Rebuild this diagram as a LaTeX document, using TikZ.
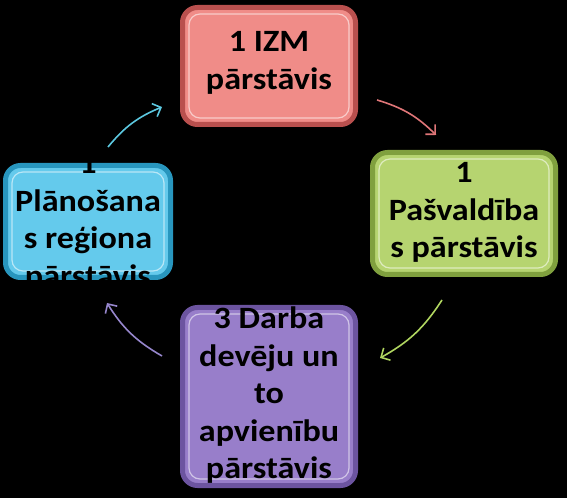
\documentclass[tikz,border=0pt]{standalone}
\usepackage{fontspec}
\setmainfont{Carlito}[FakeStretch=1.1]
\usetikzlibrary{arrows.meta}
\definecolor{redfill}{RGB}{240,140,136}
\definecolor{redrim}{RGB}{185,80,78}
\definecolor{greenfill}{RGB}{182,212,112}
\definecolor{greenrim}{RGB}{128,160,62}
\definecolor{bluefill}{RGB}{100,202,236}
\definecolor{bluerim}{RGB}{40,150,190}
\definecolor{purplefill}{RGB}{152,126,202}
\definecolor{purplerim}{RGB}{108,84,160}
\definecolor{arrcyan}{RGB}{92,200,224}
\definecolor{arrred}{RGB}{224,118,120}
\definecolor{arrgreen}{RGB}{176,214,96}
\definecolor{arrpurple}{RGB}{150,134,204}
\tikzset{
  panel/.style={rectangle, rounded corners=15pt, line width=5pt, inner sep=0pt},
  shine/.style={rectangle, rounded corners=11pt, draw=white, draw opacity=0.55, line width=1.2pt, inner sep=0pt},
  label/.style={align=center, inner sep=0pt, text=black, font=\bfseries\fontsize{31}{37.5}\selectfont},
  flow/.style={line width=1.6pt, -{Straight Barb[length=7pt,width=14pt,line width=1.6pt]}, bend left=14}
}
\begin{document}
\begin{tikzpicture}[x=1pt,y=1pt]
\useasboundingbox (0,0) rectangle (567,498);
\fill[black] (0,0) rectangle (567,498);
% boxes
\node[panel, fill=redfill, draw=redrim, minimum width=173pt, minimum height=117pt] (red) at (269,432) {};
\node[shine, minimum width=160pt, minimum height=104pt] (redshine) at (red) {};
\node[panel, fill=greenfill, draw=greenrim, minimum width=183pt, minimum height=122pt] (green) at (464,284.5) {};
\node[shine, minimum width=170pt, minimum height=109pt] (greenshine) at (green) {};
\node[panel, fill=bluefill, draw=bluerim, minimum width=165pt, minimum height=112pt] (blue) at (88,276.5) {};
\node[shine, minimum width=152pt, minimum height=99pt] (blueshine) at (blue) {};
\node[panel, fill=purplefill, draw=purplerim, minimum width=173pt, minimum height=178pt] (purple) at (269,101.5) {};
\node[shine, minimum width=160pt, minimum height=165pt] (purpleshine) at (purple) {};
% texts
\node[label] (redtxt) at ([yshift=3pt]red.center) {1 IZM\\pārstāvis};
\node[label] (greentxt) at ([yshift=1pt]green.center) {1\\Pašvaldība\\s pārstāvis};
\node[label] (bluetxt) at ([yshift=-1pt]blue.center) {1\\Plānošana\\s reģiona\\pārstāvis};
\node[label] (purpletxt) at ([yshift=1pt]purple.center) {3 Darba\\devēju un\\to\\apvienību\\pārstāvis};
% arrow ends
\coordinate (c1s) at (108,351);
\coordinate (c1e) at (162,391);
\coordinate (c2s) at (377,398);
\coordinate (c2e) at (436,363);
\coordinate (c3s) at (442,198);
\coordinate (c3e) at (380,140);
\coordinate (c4s) at (162,142);
\coordinate (c4e) at (107,195);
\draw[flow, arrcyan] (c1s) to (c1e);
\draw[flow, arrred] (c2s) to (c2e);
\draw[flow, arrgreen] (c3s) to (c3e);
\draw[flow, arrpurple] (c4s) to (c4e);
\end{tikzpicture}
\end{document}
